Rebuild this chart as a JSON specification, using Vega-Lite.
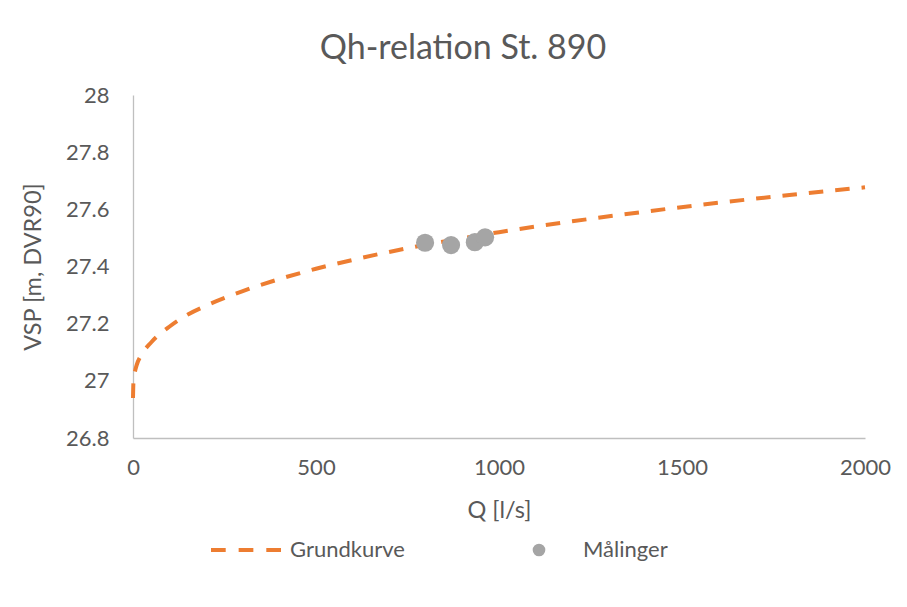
{
  "$schema": "https://vega.github.io/schema/vega-lite/v6.json",
  "width": 732,
  "height": 343,
  "autosize": {"type": "none"},
  "padding": {"left": 133, "top": 95, "right": 42, "bottom": 169},
  "background": "white",
  "config": {
    "font": "Lato",
    "view": {"stroke": null},
    "axis": {
      "grid": false,
      "ticks": false,
      "labelFlush": false,
      "labelOverlap": false,
      "domainColor": "#BFBFBF",
      "domainWidth": 1.3,
      "labelColor": "#595959",
      "titleColor": "#595959",
      "labelFontSize": 22,
      "titleFontSize": 23.5,
      "titleFontWeight": "normal",
      "labelFont": "Lato",
      "titleFont": "Lato"
    }
  },
  "title": {
    "text": "Qh-relation St. 890",
    "fontSize": 34,
    "fontWeight": "normal",
    "color": "#595959",
    "font": "Lato",
    "anchor": "middle",
    "dx": -36,
    "offset": 18
  },
  "datasets": {
    "curve": [
      {"Q": 0, "VSP": 26.94, "series": "Grundkurve"},
      {"Q": 1, "VSP": 26.99, "series": "Grundkurve"},
      {"Q": 3, "VSP": 27.015, "series": "Grundkurve"},
      {"Q": 5, "VSP": 27.03, "series": "Grundkurve"},
      {"Q": 10, "VSP": 27.055, "series": "Grundkurve"},
      {"Q": 25, "VSP": 27.095, "series": "Grundkurve"},
      {"Q": 50, "VSP": 27.135, "series": "Grundkurve"},
      {"Q": 100, "VSP": 27.19, "series": "Grundkurve"},
      {"Q": 150, "VSP": 27.232, "series": "Grundkurve"},
      {"Q": 200, "VSP": 27.263, "series": "Grundkurve"},
      {"Q": 300, "VSP": 27.314, "series": "Grundkurve"},
      {"Q": 400, "VSP": 27.356, "series": "Grundkurve"},
      {"Q": 500, "VSP": 27.392, "series": "Grundkurve"},
      {"Q": 600, "VSP": 27.423, "series": "Grundkurve"},
      {"Q": 700, "VSP": 27.451, "series": "Grundkurve"},
      {"Q": 800, "VSP": 27.476, "series": "Grundkurve"},
      {"Q": 900, "VSP": 27.499, "series": "Grundkurve"},
      {"Q": 1000, "VSP": 27.52, "series": "Grundkurve"},
      {"Q": 1200, "VSP": 27.558, "series": "Grundkurve"},
      {"Q": 1400, "VSP": 27.592, "series": "Grundkurve"},
      {"Q": 1600, "VSP": 27.623, "series": "Grundkurve"},
      {"Q": 1800, "VSP": 27.651, "series": "Grundkurve"},
      {"Q": 2000, "VSP": 27.677, "series": "Grundkurve"}
    ],
    "meas": [
      {"Q": 798, "VSP": 27.483, "series": "Målinger"},
      {"Q": 869, "VSP": 27.475, "series": "Målinger"},
      {"Q": 934, "VSP": 27.485, "series": "Målinger"},
      {"Q": 962, "VSP": 27.502, "series": "Målinger"}
    ]
  },
  "layer": [
    {
      "data": {"name": "curve"},
      "mark": {"type": "line", "strokeWidth": 4, "strokeDash": [14.5, 12], "interpolate": "monotone"},
      "encoding": {
        "x": {
          "field": "Q", "type": "quantitative",
          "scale": {"domain": [0, 2000], "nice": false, "zero": false},
          "axis": {"values": [0, 500, 1000, 1500, 2000], "format": "d", "title": "Q [l/s]", "labelPadding": 19, "titlePadding": 20}
        },
        "y": {
          "field": "VSP", "type": "quantitative",
          "scale": {"domain": [26.8, 28], "nice": false, "zero": false},
          "axis": {"values": [26.8, 27, 27.2, 27.4, 27.6, 27.8, 28], "format": "~g", "title": "VSP [m, DVR90]", "labelPadding": 24, "titlePadding": 20}
        },
        "color": {
          "field": "series", "type": "nominal",
          "scale": {"domain": ["Grundkurve", "Målinger"], "range": ["#ED7D31", "#A5A5A5"]},
          "legend": {
            "orient": "none",
            "legendX": 102,
            "legendY": 444,
            "direction": "horizontal",
            "title": null,
            "symbolSize": 4900,
            "labelFontSize": 22,
            "labelColor": "#595959",
            "labelFont": "Lato",
            "labelOffset": 33,
            "columnPadding": 123,
            "encode": {
              "symbols": {
                "update": {
                  "shape": {"signal": "datum.value === 'Grundkurve' ? 'M-1,0H-0.58M-0.21,0H0.21M0.58,0H1' : 'circle'"},
                  "size": {"signal": "datum.value === 'Grundkurve' ? 4900 : 160"},
                  "fill": {"signal": "datum.value === 'Grundkurve' ? 'transparent' : '#A5A5A5'"},
                  "stroke": {"signal": "datum.value === 'Grundkurve' ? '#ED7D31' : '#A5A5A5'"},
                  "strokeWidth": {"signal": "datum.value === 'Grundkurve' ? 4 : 0"},
                  "strokeDash": {"value": []},
                  "opacity": {"value": 1}
                }
              }
            }
          }
        }
      }
    },
    {
      "data": {"name": "meas"},
      "mark": {"type": "point", "filled": true, "size": 330, "opacity": 1},
      "encoding": {
        "x": {"field": "Q", "type": "quantitative"},
        "y": {"field": "VSP", "type": "quantitative"},
        "color": {"field": "series", "type": "nominal"}
      }
    }
  ]
}
